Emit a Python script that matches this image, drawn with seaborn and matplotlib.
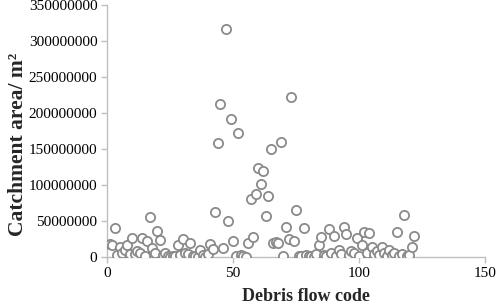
import matplotlib
matplotlib.use("Agg")
import matplotlib.pyplot as plt
import seaborn as sns
import pandas as pd
import numpy as np
from matplotlib.ticker import FuncFormatter

# Catchment area in millions of m² for debris flow codes 1..122
area_millions = [
    18, 17, 40, 3, 14, 5, 10, 17, 4, 27,
    4, 8, 5, 27, 1.5, 22, 55, 12, 6, 36,
    24, 3, 5, 1.5, 0.5, 2, 1, 17, 3, 25,
    5, 4, 20, 2, 1, 0.5, 10, 3, 0.5, 4,
    18, 11, 62, 158, 213, 12, 317, 50, 192, 22,
    2, 172, 3, 1, 0.5, 19, 80, 28, 88, 124,
    101, 120, 57, 85, 150, 20, 21, 19, 159, 2,
    41, 25, 222, 22, 65, 2, 1, 40, 3, 1,
    2, 0.5, 4, 16, 28, 3, 1, 39, 5, 29,
    2, 10, 4, 41, 32, 3, 8, 5, 26, 2,
    17, 34, 6, 33, 14, 4, 8, 3, 14, 6,
    2, 10, 3, 5, 34, 2, 4, 58, 1, 3,
    13.5, 29,
]
codes = list(range(1, len(area_millions) + 1))
areas = [v * 1e6 for v in area_millions]

x_ticks = [0, 50, 100, 150]
y_ticks = [0, 50000000, 100000000, 150000000, 200000000, 250000000, 300000000, 350000000]

df = pd.DataFrame({"code": codes, "area": areas})

sns.set_theme(style="white")
plt.rcParams["font.family"] = ["Liberation Serif", "DejaVu Serif"]

fig = plt.figure(figsize=(4.98, 3.07), dpi=100)
ax = fig.add_axes([0.215, 0.163, 0.759, 0.821])

sns.scatterplot(data=df, x="code", y="area", ax=ax, marker="o",
                facecolor="white", edgecolor="#8a8a8a", linewidth=1.3,
                s=44, zorder=3)

ax.set_xlim(0, 150)
ax.set_ylim(0, 350000000)
ax.set_xticks(x_ticks)
ax.set_yticks(y_ticks)
ax.yaxis.set_major_formatter(FuncFormatter(lambda v, p: f"{int(round(v))}"))

spine_c = "#bfbfbf"
for s in ["top", "right"]:
    ax.spines[s].set_visible(False)
for s in ["left", "bottom"]:
    ax.spines[s].set_color(spine_c)
    ax.spines[s].set_linewidth(1.0)
ax.tick_params(axis="both", which="major", direction="out", length=4,
               width=1.0, color=spine_c, labelsize=11, labelcolor="black",
               left=True, bottom=True, pad=3)

ax.set_xlabel("Debris flow code", fontsize=13, fontweight="bold")
ax.set_ylabel("Catchment area/ m²", fontsize=15.5, fontweight="bold")
ax.xaxis.set_label_coords(0.527, -0.125)
ax.yaxis.set_label_coords(-0.21, 0.445)

fig.savefig("out.png", dpi=100)
